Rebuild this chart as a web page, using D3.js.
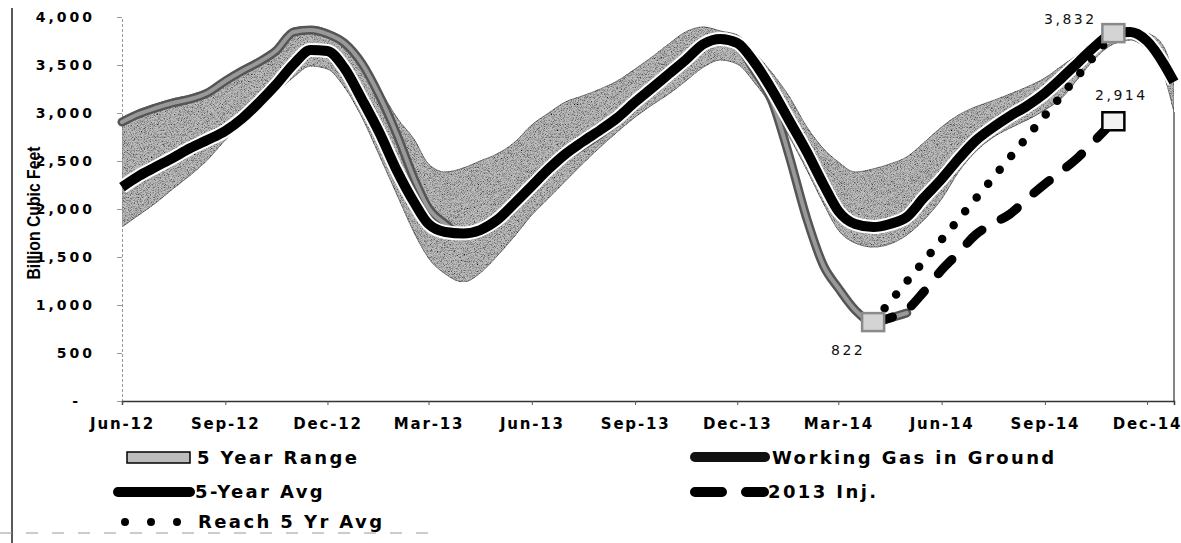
<!DOCTYPE html>
<html>
<head>
<meta charset="utf-8">
<script src="https://cdn.jsdelivr.net/npm/d3@7.9.0/dist/d3.min.js"></script>
<style>
  body { margin: 0; background: #fff; }
  svg { display: block; }
  .tick text { font-family: "DejaVu Sans", Verdana, sans-serif; font-weight: bold; fill: #000; }
  .legend text { font-family: "DejaVu Sans", Verdana, sans-serif; font-weight: bold; font-size: 18px; letter-spacing: 2.4px; }
  .value-label { font-family: "DejaVu Sans", sans-serif; font-size: 14px; letter-spacing: 2.5px; fill: #111; }
</style>
</head>
<body>
<svg id="chart" width="1181" height="543">
  <defs>
    <filter id="grain" x="0" y="0" width="100%" height="100%">
      <feTurbulence type="fractalNoise" baseFrequency="1.3" numOctaves="1" seed="7" result="noise"/>
      <feColorMatrix in="noise" type="matrix"
        values="0 0 0 0 0  0 0 0 0 0  0 0 0 0 0  2.6 0 0 0 -1.1" result="speck"/>
      <feComposite in="speck" in2="SourceGraphic" operator="in" result="specks"/>
      <feMerge><feMergeNode in="SourceGraphic"/><feMergeNode in="specks"/></feMerge>
    </filter>
  </defs>
</svg>
<script>
// semi-monthly points, Bcf
const dates = [
  "2012-06-01", "2012-06-16", "2012-07-01", "2012-07-16", "2012-08-01", "2012-08-16",
  "2012-09-01", "2012-09-16", "2012-10-01", "2012-10-16", "2012-11-01", "2012-11-16",
  "2012-12-01", "2012-12-16",
  "2013-01-01", "2013-01-16", "2013-02-01", "2013-02-16", "2013-03-01", "2013-03-16",
  "2013-04-01", "2013-04-16", "2013-05-01", "2013-05-16", "2013-06-01", "2013-06-16",
  "2013-07-01", "2013-07-16", "2013-08-01", "2013-08-16", "2013-09-01", "2013-09-16",
  "2013-10-01", "2013-10-16", "2013-11-01", "2013-11-16", "2013-12-01", "2013-12-16",
  "2014-01-01", "2014-01-16", "2014-02-01", "2014-02-16", "2014-03-01", "2014-03-16",
  "2014-04-01", "2014-04-16", "2014-05-01", "2014-05-16", "2014-06-01", "2014-06-16",
  "2014-07-01", "2014-07-16", "2014-08-01", "2014-08-16", "2014-09-01", "2014-09-16",
  "2014-10-01", "2014-10-16", "2014-11-01", "2014-11-16", "2014-12-01", "2014-12-16",
  "2014-12-25",
];

const rangeHigh = [
  2948, 3031, 3094, 3146, 3188, 3250, 3375, 3479, 3573, 3688, 3885, 3906, 3865, 3771,
  3552, 3260, 2948, 2729, 2469, 2385, 2427, 2500, 2573, 2688, 2875, 3000, 3115, 3177,
  3250, 3333, 3458, 3583, 3719, 3844, 3896, 3854, 3813, 3635,
  3417, 3177, 2854, 2625, 2490, 2385, 2417, 2469, 2542, 2688, 2854, 2979, 3063, 3125,
  3198, 3271, 3365, 3490, 3615, 3750, 3844, 3865, 3833, 3688, 3365,
];

const rangeLow = [
  1813, 1938, 2063, 2208, 2354, 2510, 2719, 2885, 3052, 3208, 3375, 3490, 3458, 3271,
  2948, 2563, 2146, 1760, 1490, 1323, 1240, 1333, 1510, 1708, 1938, 2115, 2292, 2469,
  2646, 2802, 2958, 3083, 3198, 3333, 3479, 3552, 3510, 3323,
  3063, 2760, 2406, 2052, 1781, 1646, 1604, 1635, 1729, 1885, 2104, 2385, 2594, 2740,
  2844, 2927, 3031, 3156, 3365, 3573, 3719, 3760, 3656, 3396, 3010,
];

const fiveYearAvg = [
  2229, 2344, 2438, 2531, 2635, 2719, 2813, 2943, 3109, 3292, 3510, 3656, 3646, 3469,
  3135, 2802, 2396, 2073, 1844, 1760, 1745, 1781, 1885, 2052, 2240, 2417, 2573, 2698,
  2823, 2948, 3115, 3260, 3406, 3552, 3719, 3771, 3729, 3531,
  3240, 2927, 2594, 2250, 1979, 1844, 1812, 1844, 1917, 2115, 2313, 2521, 2708, 2844,
  2969, 3073, 3208, 3365, 3531, 3698, 3832, 3844, 3750, 3510, 3323,
];

// working gas runs from the first date up to 2014-05-01
const workingGas = [
  2906, 2990, 3052, 3104, 3146, 3208, 3333, 3438, 3531, 3646, 3844, 3865, 3823, 3729,
  3510, 3188, 2771, 2323, 2010, 1844, 1719, 1750, 1854, 2021, 2208, 2385, 2542, 2656,
  2781, 2917, 3083, 3240, 3396, 3552, 3708, 3781, 3708, 3448,
  3120, 2563, 1896, 1406, 1177, 948, 822, 865, 917,
];

const injDates = [
  "2014-04-01", "2014-04-16", "2014-05-01", "2014-05-16", "2014-06-01", "2014-06-16",
  "2014-07-01", "2014-07-16", "2014-08-01", "2014-08-16", "2014-09-01", "2014-09-16",
  "2014-10-01", "2014-10-16", "2014-11-01",
];
const inj2013 = [822, 865, 948, 1135, 1365, 1542, 1729, 1844, 1948, 2104, 2260, 2396, 2542, 2719, 2914];

const reachDates = ["2014-04-01", "2014-11-01"];
const reachAvg = [822, 3832];

const markerDates = ["2014-04-01", "2014-11-01", "2014-11-01"];
const markerValues = [822, 3832, 2914];

const xTickLabels = ["Jun-12", "Sep-12", "Dec-12", "Mar-13", "Jun-13", "Sep-13",
  "Dec-13", "Mar-14", "Jun-14", "Sep-14", "Dec-14"];
const yTicks = [0, 500, 1000, 1500, 2000, 2500, 3000, 3500, 4000];

const parseDate = d3.timeParse("%Y-%m-%d");
const parseTick = d3.timeParse("%b-%y");

const rows = dates.map((d, i) => ({
  date: parseDate(d),
  hi: rangeHigh[i],
  lo: rangeLow[i],
  avg: fiveYearAvg[i],
  gas: workingGas[i],
}));
const gasRows = rows.filter((d) => d.gas !== undefined);
const injRows = injDates.map((d, i) => ({ date: parseDate(d), value: inj2013[i] }));
const reachRows = reachDates.map((d, i) => ({ date: parseDate(d), value: reachAvg[i] }));

const svg = d3.select("#chart");
svg.insert("rect", "defs + *").attr("width", 1181).attr("height", 543).attr("fill", "#fff");

const xScale = d3.scaleTime()
  .domain([parseDate("2012-06-01"), parseDate("2014-12-25")])
  .range([122, 1174]);
const yScale = d3.scaleLinear().domain([0, 4000]).range([401, 17]);

// outer frame remnants
svg.append("line")
  .attr("x1", 12).attr("x2", 12).attr("y1", 8).attr("y2", 543)
  .attr("stroke", "#222").attr("stroke-width", 1.5);
svg.append("line")
  .attr("x1", 0).attr("x2", 430).attr("y1", 533).attr("y2", 533)
  .attr("stroke", "#999").attr("stroke-width", 1).attr("stroke-dasharray", "12,14");

// band
const band = d3.area()
  .x((d) => xScale(d.date))
  .y0((d) => yScale(d.lo))
  .y1((d) => yScale(d.hi))
  .curve(d3.curveMonotoneX);

svg.append("path")
  .datum(rows)
  .attr("d", band)
  .attr("fill", "#bdbdbd")
  .attr("stroke", "#7a7a7a")
  .attr("stroke-width", 1)
  .attr("filter", "url(#grain)");

// the stacked base area leaves an edge at the last date
const last = rows[rows.length - 1];
svg.append("line")
  .attr("x1", xScale(last.date)).attr("x2", xScale(last.date))
  .attr("y1", yScale(last.lo)).attr("y2", yScale(0))
  .attr("stroke", "#333").attr("stroke-width", 1.2);

// axes
const yAxis = svg.append("g")
  .attr("transform", "translate(122,0)")
  .call(d3.axisLeft(yScale)
    .tickValues(yTicks)
    .tickSize(5)
    .tickPadding(22)
    .tickFormat((d) => (d === 0 ? "-" : d3.format(",")(d))));
yAxis.select(".domain").attr("stroke", "#999").attr("stroke-dasharray", "3,2");
yAxis.selectAll(".tick line").attr("stroke", "#999");
yAxis.selectAll(".tick text")
  .style("font-size", "14px")
  .style("letter-spacing", "3px")
  .attr("dx", (d) => (d === 0 ? -14 : 0));

const xAxis = svg.append("g")
  .attr("transform", "translate(0,401)")
  .call(d3.axisBottom(xScale)
    .tickValues(xTickLabels.map(parseTick))
    .tickSize(4)
    .tickPadding(13)
    .tickFormat(d3.timeFormat("%b-%y")));
xAxis.select(".domain").attr("stroke", "#333").attr("stroke-width", 1.5);
xAxis.selectAll(".tick line").attr("stroke", "#555");
xAxis.selectAll(".tick text")
  .style("font-size", "15px")
  .style("letter-spacing", "1.8px");

svg.append("text")
  .attr("transform", "translate(40,213) rotate(-90)")
  .attr("text-anchor", "middle")
  .attr("textLength", 133)
  .attr("lengthAdjust", "spacingAndGlyphs")
  .style("font-family", '"Liberation Sans Narrow", "Liberation Sans", sans-serif')
  .style("font-weight", "bold")
  .style("font-size", "18px")
  .text("Billion Cubic Feet");

// series
const line = d3.line()
  .x((d) => xScale(d.date))
  .y((d) => yScale(d.value))
  .curve(d3.curveMonotoneX);

const gasPts = gasRows.map((d) => ({ date: d.date, value: d.gas }));
svg.append("path").datum(gasPts).attr("d", line)
  .attr("fill", "none").attr("stroke", "#555").attr("stroke-width", 9)
  .attr("stroke-linecap", "round").attr("stroke-linejoin", "round");
svg.append("path").datum(gasPts).attr("d", line)
  .attr("fill", "none").attr("stroke", "#999").attr("stroke-width", 4)
  .attr("stroke-linecap", "round");

const avgPts = rows.map((d) => ({ date: d.date, value: d.avg }));
svg.append("path").datum(avgPts).attr("d", line)
  .attr("fill", "none").attr("stroke", "#fff").attr("stroke-width", 14);
svg.append("path").datum(avgPts).attr("d", line)
  .attr("fill", "none").attr("stroke", "#000").attr("stroke-width", 10);

svg.append("path").datum(reachRows).attr("d", line.curve(d3.curveLinear))
  .attr("fill", "none").attr("stroke", "#000").attr("stroke-width", 8.5)
  .attr("stroke-linecap", "round").attr("stroke-dasharray", "0,18");

svg.append("path").datum(injRows).attr("d", line.curve(d3.curveMonotoneX))
  .attr("fill", "none").attr("stroke", "#000").attr("stroke-width", 9)
  .attr("stroke-linecap", "round").attr("stroke-dasharray", "20,22");

// markers and labels
const markers = markerDates.map((d, i) => ({ date: parseDate(d), value: markerValues[i] }));
const markerStyle = [
  { fill: "#d4d4d4", stroke: "#8a8a8a", dx: -25, dy: 29 },
  { fill: "#d4d4d4", stroke: "#8a8a8a", dx: -43, dy: -13 },
  { fill: "#f2f2f2", stroke: "#000", dx: 8, dy: -25 },
];
markers.forEach((m, i) => {
  const cx = xScale(m.date);
  const cy = yScale(m.value);
  svg.append("rect")
    .attr("x", cx - 11).attr("y", cy - 9).attr("width", 22).attr("height", 18)
    .attr("fill", markerStyle[i].fill)
    .attr("stroke", markerStyle[i].stroke).attr("stroke-width", 2.5);
  svg.append("text")
    .attr("class", "value-label")
    .attr("x", cx + markerStyle[i].dx)
    .attr("y", cy + markerStyle[i].dy)
    .attr("text-anchor", "middle")
    .attr("dominant-baseline", "middle")
    .text(d3.format(",")(m.value));
});

// legend
const legend = svg.append("g").attr("class", "legend");
legend.append("rect")
  .attr("x", 127).attr("y", 452).attr("width", 63).attr("height", 11)
  .attr("fill", "#bdbdbd").attr("stroke", "#000").attr("stroke-width", 1.5);
legend.append("text").attr("x", 197).attr("y", 464).text("5 Year Range");

legend.append("line")
  .attr("x1", 118).attr("x2", 190).attr("y1", 492).attr("y2", 492)
  .attr("stroke", "#000").attr("stroke-width", 10).attr("stroke-linecap", "round");
legend.append("text").attr("x", 195).attr("y", 498).text("5-Year Avg");

legend.append("line")
  .attr("x1", 125).attr("x2", 178).attr("y1", 522).attr("y2", 522)
  .attr("stroke", "#000").attr("stroke-width", 8).attr("stroke-linecap", "round")
  .attr("stroke-dasharray", "0,26");
legend.append("text").attr("x", 198).attr("y", 528).text("Reach 5 Yr Avg");

legend.append("line")
  .attr("x1", 695).attr("x2", 765).attr("y1", 457).attr("y2", 457)
  .attr("stroke", "#111").attr("stroke-width", 10).attr("stroke-linecap", "round");
legend.append("text").attr("x", 772).attr("y", 464).text("Working Gas in Ground");

legend.append("line")
  .attr("x1", 695).attr("x2", 764).attr("y1", 492).attr("y2", 492)
  .attr("stroke", "#000").attr("stroke-width", 10).attr("stroke-linecap", "round")
  .attr("stroke-dasharray", "27,24");
legend.append("text").attr("x", 768).attr("y", 498).text("2013 Inj.");
</script>
</body>
</html>
